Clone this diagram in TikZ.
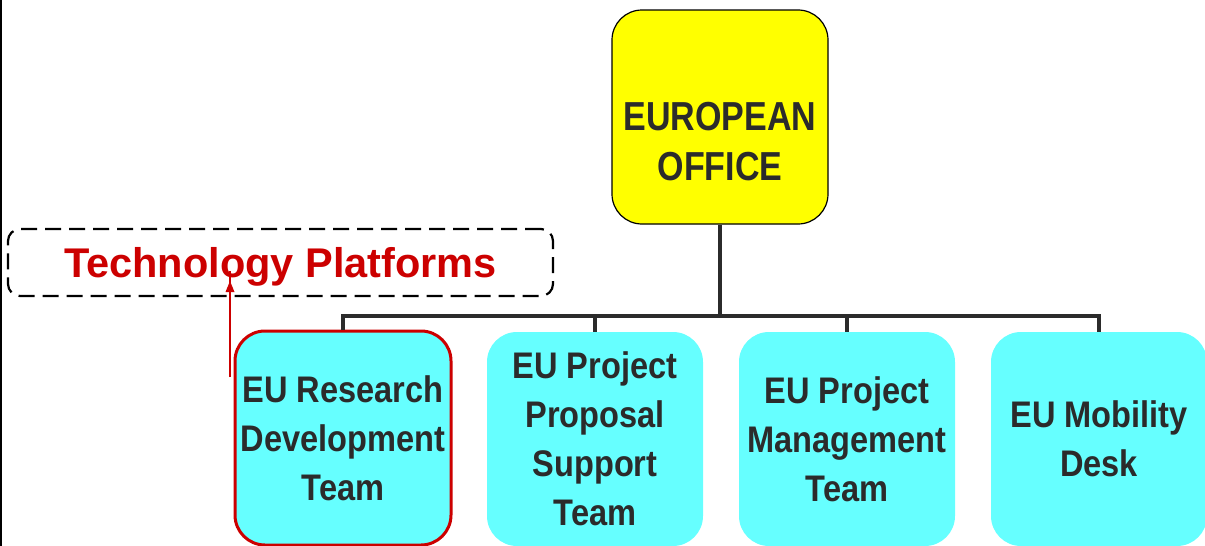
\documentclass[tikz,border=0pt]{standalone}
\usepackage{xcolor}
\usepackage{fontspec}
\setmainfont{Liberation Sans}
\newfontfamily\headfont{Liberation Sans}[FakeStretch=0.84]
\newfontfamily\teamfont{Liberation Sans}[FakeStretch=0.88]
\usepackage{tikz}

\definecolor{officeyellow}{RGB}{255,255,0}
\definecolor{teamcyan}{RGB}{102,255,255}
\definecolor{platformred}{RGB}{204,0,0}
\definecolor{inkgray}{RGB}{43,43,43}

\begin{document}
\begin{tikzpicture}[x=1pt,y=1pt,yscale=-1,xscale=1,
    office/.style={draw=black,line width=1.2pt,fill=officeyellow,rounded corners=30pt,
        minimum width=216pt,minimum height=214pt,inner sep=0pt},
    headtext/.style={align=center,text=inkgray,font=\headfont\bfseries\fontsize{40.5}{50}\selectfont},
    team/.style={fill=teamcyan,rounded corners=30pt,minimum width=216pt,minimum height=214pt,
        inner sep=0pt,align=center,text=inkgray,font=\teamfont\bfseries\fontsize{37}{49}\selectfont},
    platforms/.style={draw=black,line width=2.2pt,dash pattern=on 16pt off 8pt,rounded corners=12pt,
        minimum width=545pt,minimum height=67pt,inner sep=0pt,text depth=0pt,
        text=platformred,font=\bfseries\fontsize{41.5}{50}\selectfont},
    orgline/.style={draw=inkgray,line width=4.5pt},
    uplink/.style={draw=platformred,line width=2.5pt}]
        \useasboundingbox (0,0) rectangle (1205,546);
        \draw [line width=1.5pt] (1,0) -- (1,546);

        % head and teams
        \node [office,label={[headtext,yshift=-24.5pt]center:EUROPEAN\\OFFICE}] (office) at (720,117) {};
        \node [team,draw=platformred,line width=3pt] (research) at (343,438) {EU Research\\Development\\Team};
        \node [team] (proposal) at (595,439) {EU Project\\Proposal\\Support\\Team};
        \node [team] (management) at (847,439) {EU Project\\Management\\Team};
        \node [team] (mobility) at (1099,439) {EU Mobility\\Desk};
        \node [platforms] (platforms) at (280.5,262.5) {Technology Platforms};

        % tree lines
        \coordinate (bus) at (720,316);
        \draw [orgline] (office.south) -- (bus);
        \draw [orgline] (research.north) |- (bus) -| (mobility.north);
        \draw [orgline] (proposal.north) -- (proposal.north |- bus);
        \draw [orgline] (management.north) -- (management.north |- bus);

        % link to the platforms
        \coordinate (tail) at (230,377);
        \coordinate (tip) at (230,281);
        \draw [uplink] (tail) -- ([yshift=-10pt]tip);
        \fill [platformred, shift={(tip)}] (0,0) -- (4.5,11) -- (-4.5,11) -- cycle;
\end{tikzpicture}
\end{document}
